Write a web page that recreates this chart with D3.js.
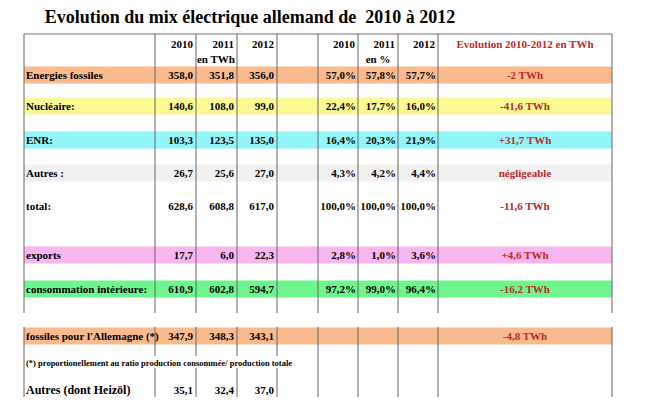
<!DOCTYPE html>
<html><head><meta charset="utf-8">
<script src="https://cdn.jsdelivr.net/npm/d3@7"></script>
<style>body{margin:0;background:#fff}text{font-family:"Liberation Serif",serif;font-weight:bold}</style>
</head><body><svg id="c" width="661" height="416"></svg>
<script>
const years = ["2010", "2011", "2012"];
const rowLabels = ["Energies fossiles", "Nucléaire:", "ENR:", "Autres :", "total:", "exports", "consommation intérieure:", "fossiles pour l'Allemagne (*)", "Autres (dont Heizöl)"];
const twh = [["358,0","351,8","356,0"],["140,6","108,0","99,0"],["103,3","123,5","135,0"],["26,7","25,6","27,0"],["628,6","608,8","617,0"],["17,7","6,0","22,3"],["610,9","602,8","594,7"],["347,9","348,3","343,1"],["35,1","32,4","37,0"]];
const pct = [["57,0%","57,8%","57,7%"],["22,4%","17,7%","16,0%"],["16,4%","20,3%","21,9%"],["4,3%","4,2%","4,4%"],["100,0%","100,0%","100,0%"],["2,8%","1,0%","3,6%"],["97,2%","99,0%","96,4%"],["","",""],["","",""]];
const evolution = ["-2 TWh","-41,6 TWh","+31,7 TWh","négligeable","-11,6 TWh","+4,6 TWh","-16,2 TWh","-4,8 TWh",""];
const rowY = [75, 106, 140, 173, 206, 255, 289, 336, 390];
const bands = ["#f9bb8e","#fcfb93","#92f6f8","#f1f1f1",null,"#f8b5ee","#6ff58e","#f9bb8e",null];

const svg = d3.select("#c");
const cols = [24,155,196,237,277,318,358,398,438,612];

svg.append("text").attr("x",250).attr("y",23).attr("text-anchor","middle").attr("xml:space","preserve")
   .attr("font-size",18).text("Evolution du mix électrique allemand de  2010 à 2012");

// bands
rowLabels.forEach((l,i) => {
  if (bands[i]) svg.append("rect").attr("x",cols[0]).attr("y",rowY[i]-8.5).attr("width",cols[9]-cols[0]).attr("height",17).attr("fill",bands[i]);
});

// grid
svg.append("line").attr("x1",cols[0]).attr("x2",cols[9]).attr("y1",34).attr("y2",34).attr("stroke","#777");
cols.forEach(x => {
  svg.append("line").attr("x1",x).attr("x2",x).attr("y1",34).attr("y2",313).attr("stroke","#666");
  svg.append("line").attr("x1",x).attr("x2",x).attr("y1",327).attr("y2",397).attr("stroke","#666");
});

// headers
years.forEach((y,j) => {
  svg.append("text").attr("x",cols[j+2]-3).attr("y",48).attr("text-anchor","end").attr("font-size",11).text(y);
  svg.append("text").attr("x",cols[j+6]-3).attr("y",48).attr("text-anchor","end").attr("font-size",11).text(y);
});
svg.append("text").attr("x",216).attr("y",63).attr("text-anchor","middle").attr("font-size",11).text("en TWh");
svg.append("text").attr("x",378).attr("y",63).attr("text-anchor","middle").attr("font-size",11).text("en %");
svg.append("text").attr("x",525).attr("y",48).attr("text-anchor","middle").attr("font-size",11).attr("fill","#c0282a").text("Evolution 2010-2012 en TWh");

rowLabels.forEach((l,i) => {
  const y = rowY[i]+4;
  svg.append("text").attr("x",cols[0]+2).attr("y",y).attr("font-size",i===8?12:11).text(l);
  twh[i].forEach((v,j) => svg.append("text").attr("x",cols[j+2]-3).attr("y",y).attr("text-anchor","end").attr("font-size",11).text(v));
  pct[i].forEach((v,j) => svg.append("text").attr("x",cols[j+6]-2).attr("y",y).attr("text-anchor","end").attr("font-size",11).text(v));
  svg.append("text").attr("x",525).attr("y",y).attr("text-anchor","middle").attr("font-size",11).attr("fill","#c0282a").text(evolution[i]);
});
svg.append("rect").attr("x",cols[0]+1).attr("y",356).attr("width",275).attr("height",12).attr("fill","#fff");
svg.append("text").attr("x",cols[0]+2).attr("y",366).attr("font-size",8.5)
   .text("(*) proportionellement au ratio production consommée/ production totale");
</script></body></html>
